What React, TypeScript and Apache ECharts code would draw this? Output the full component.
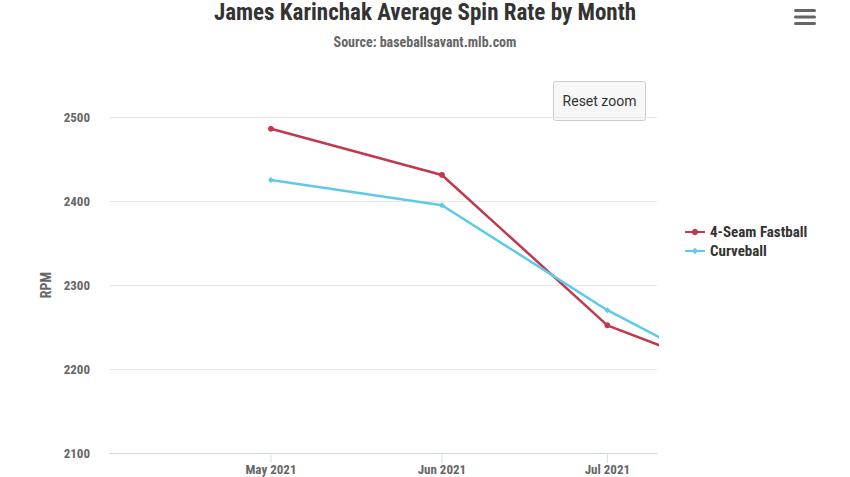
import React, { useEffect, useRef } from "react";
import * as echarts from "echarts";

const months = ["2021-05-01", "2021-06-01", "2021-07-01", "2021-08-01"];
const fastball = [2486, 2431, 2252, 2174];
const curveball = [2425, 2395, 2270, 2164];
const tickDates = ["2021-05-01", "2021-06-01", "2021-07-01"];
const seriesNames = ["4-Seam Fastball", "Curveball"];
const yTicks = [2100, 2200, 2300, 2400, 2500];

const FONT = "'Roboto Condensed', 'Liberation Sans Narrow', 'DejaVu Sans Condensed', Roboto, sans-serif";
const monthNames = ["Jan", "Feb", "Mar", "Apr", "May", "Jun", "Jul", "Aug", "Sep", "Oct", "Nov", "Dec"];

const ts = (s: string) => {
  const [y, m, d] = s.split("-").map(Number);
  return new Date(y, m - 1, d).getTime();
};

export default function App() {
  const ref = useRef<HTMLDivElement>(null);
  useEffect(() => {
    if (!ref.current) return;
    const chart = echarts.init(ref.current, undefined, { renderer: "svg" });
    const xMin = new Date(2021, 3, 1, 19, 30).getTime();
    const xMax = new Date(2021, 6, 10, 0, 0).getTime();
    chart.setOption({
      animation: false,
      backgroundColor: "#ffffff",
      textStyle: { fontFamily: FONT },
      title: [
        {
          text: "James Karinchak Average Spin Rate by Month",
          left: "center",
          top: 1,
          padding: 0,
          textStyle: { fontFamily: FONT, fontSize: 23, lineHeight: 23, fontWeight: "bold", color: "#333333" },
        },
        {
          text: "Source: baseballsavant.mlb.com",
          left: "center",
          top: 35,
          padding: 0,
          textStyle: { fontFamily: FONT, fontSize: 14, lineHeight: 14, fontWeight: "bold", color: "#666666" },
        },
      ],
      legend: {
        orient: "vertical",
        left: 679,
        top: 219,
        itemWidth: 20,
        itemHeight: 8,
        itemGap: 3,
        data: seriesNames,
        textStyle: { fontFamily: FONT, fontSize: 15, lineHeight: 16, fontWeight: "bold", color: "#333333" },
      },
      grid: { left: 110, right: 193, top: 117, bottom: 24, containLabel: false },
      xAxis: {
        type: "value",
        min: xMin,
        max: xMax,
        axisLine: { show: true, lineStyle: { color: "#ccd6eb", width: 1 } },
        axisTick: { show: false },
        axisLabel: {
          customValues: tickDates.map(ts),
          margin: 10,
          fontFamily: FONT,
          fontSize: 13,
          fontWeight: "bold",
          color: "#666666",
          formatter: (v: number) => {
            const d = new Date(v);
            return monthNames[d.getMonth()] + " " + d.getFullYear();
          },
        },
        splitLine: { show: false },
      },
      yAxis: {
        type: "value",
        min: yTicks[0],
        max: yTicks[yTicks.length - 1],
        interval: 100,
        name: "RPM",
        nameLocation: "middle",
        nameGap: 57,
        nameTextStyle: { fontFamily: FONT, fontSize: 14, fontWeight: "bold", color: "#666666" },
        axisLine: { show: false },
        axisTick: { show: false },
        axisLabel: {
          margin: 20,
          fontFamily: FONT,
          fontSize: 13,
          fontWeight: "bold",
          color: "#666666",
          formatter: (v: number) => String(v),
        },
        splitLine: { show: true, lineStyle: { color: "#e6e6e6", width: 1 } },
      },
      series: [
        {
          name: seriesNames[0],
          type: "line",
          data: months.map((m, i) => [ts(m), fastball[i]]),
          color: "#c0394d",
          lineStyle: { width: 2.5, color: "#c0394d" },
          symbol: "circle",
          symbolSize: 6,
          showSymbol: true,
          itemStyle: { color: "#c0394d" },
          clip: true,
        },
        {
          name: seriesNames[1],
          type: "line",
          data: months.map((m, i) => [ts(m), curveball[i]]),
          color: "#5ccbe9",
          lineStyle: { width: 2.5, color: "#5ccbe9" },
          symbol: "diamond",
          symbolSize: 6,
          showSymbol: true,
          itemStyle: { color: "#5ccbe9" },
          clip: true,
        },
        {
          name: "axis-ticks",
          type: "scatter",
          silent: true,
          clip: false,
          z: 10,
          data: tickDates.map((d) => [ts(d), yTicks[0]]),
          symbol: "rect",
          symbolSize: [1, 10],
          symbolOffset: [0, 5],
          itemStyle: { color: "#ccd6eb" },
          tooltip: { show: false },
        },
      ],
      graphic: [
        {
          type: "rect",
          shape: { x: 553.5, y: 81.5, width: 92, height: 39, r: 2 },
          style: { fill: "#f7f7f7", stroke: "#cccccc", lineWidth: 1 },
        },
        {
          type: "text",
          x: 599.5,
          y: 101,
          style: {
            text: "Reset zoom",
            fontFamily: "Roboto, sans-serif",
            fontSize: 14,
            fill: "#333333",
            align: "center",
            verticalAlign: "middle",
          },
        },
        { type: "rect", shape: { x: 794, y: 9, width: 22, height: 3, r: 1.5 }, style: { fill: "#666666" } },
        { type: "rect", shape: { x: 794, y: 15.5, width: 22, height: 3, r: 1.5 }, style: { fill: "#666666" } },
        { type: "rect", shape: { x: 794, y: 22, width: 22, height: 3, r: 1.5 }, style: { fill: "#666666" } },
      ],
    });
    return () => chart.dispose();
  }, []);
  return <div ref={ref} style={{ position: "absolute", left: 0, top: 0, width: 850, height: 477 }} />;
}
